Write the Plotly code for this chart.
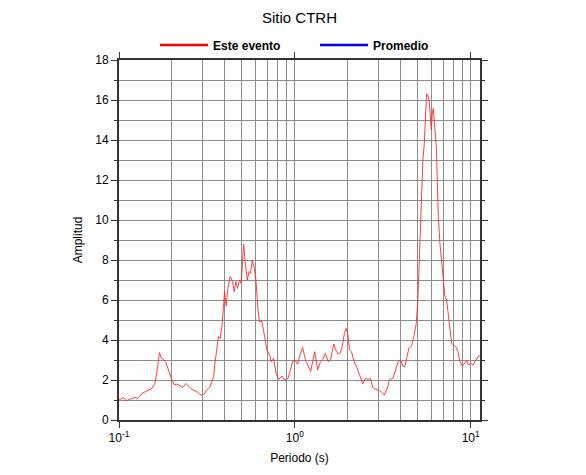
import plotly.graph_objects as go

title_text = "Sitio CTRH"
series_names = ["Este evento", "Promedio"]

periodo = [0.100, 0.106, 0.110, 0.116, 0.123, 0.128, 0.135, 0.144, 0.154, 0.160,
           0.165, 0.170, 0.174, 0.179, 0.185, 0.191, 0.200, 0.207, 0.213, 0.223,
           0.231, 0.240, 0.248, 0.260, 0.277, 0.293, 0.302, 0.316, 0.330, 0.345,
           0.352, 0.368, 0.376, 0.385, 0.393, 0.398, 0.407, 0.416, 0.429, 0.442,
           0.452, 0.462, 0.472, 0.485, 0.496, 0.504, 0.511, 0.522, 0.536, 0.550,
           0.560, 0.573, 0.588, 0.601, 0.617, 0.630, 0.650, 0.673, 0.694, 0.719,
           0.735, 0.757, 0.782, 0.809, 0.846, 0.875, 0.915, 0.943, 0.972, 1.006,
           1.037, 1.075, 1.108, 1.148, 1.189, 1.230, 1.297, 1.349, 1.398, 1.441,
           1.492, 1.546, 1.594, 1.664, 1.718, 1.763, 1.817, 1.858, 1.914, 1.957,
           1.999, 2.044, 2.098, 2.174, 2.262, 2.361, 2.434, 2.522, 2.613, 2.693,
           2.775, 2.902, 3.030, 3.140, 3.223, 3.353, 3.456, 3.609, 3.739, 3.873,
           3.991, 4.114, 4.223, 4.358, 4.450, 4.611, 4.752, 4.904, 5.008, 5.121,
           5.237, 5.348, 5.447, 5.541, 5.614, 5.710, 5.786, 5.862, 5.971, 6.050,
           6.130, 6.178, 6.260, 6.376, 6.460, 6.546, 6.685, 6.836, 6.989, 7.138,
           7.298, 7.463, 7.622, 7.793, 8.032, 8.213, 8.464, 8.690, 8.969, 9.244,
           9.489, 9.703, 10.00, 10.31, 10.68, 11.06, 11.30]

amplitud = [1.00, 1.12, 0.97, 1.05, 1.13, 1.08, 1.33, 1.45, 1.58, 1.83,
            2.50, 3.37, 3.08, 3.03, 2.87, 2.50, 2.00, 1.75, 1.80, 1.70,
            1.63, 1.83, 1.70, 1.53, 1.42, 1.25, 1.25, 1.50, 1.67, 2.17,
            2.90, 4.17, 4.08, 4.67, 5.67, 6.42, 5.70, 6.58, 7.17, 6.92,
            6.42, 6.92, 6.58, 7.00, 6.83, 8.08, 8.80, 7.92, 7.00, 7.42,
            7.33, 8.00, 7.58, 7.00, 5.50, 4.92, 4.92, 4.17, 3.50, 3.25,
            2.92, 3.08, 2.33, 2.03, 2.20, 2.00, 2.08, 2.50, 2.92, 2.97,
            2.80, 3.33, 3.63, 3.03, 2.75, 2.42, 3.42, 2.50, 2.92, 3.03,
            3.33, 2.92, 3.00, 3.80, 3.47, 3.30, 3.37, 3.67, 4.33, 4.58,
            4.33, 3.53, 3.42, 2.92, 2.58, 2.17, 1.80, 2.08, 2.03, 2.08,
            1.63, 1.53, 1.47, 1.37, 1.25, 1.58, 2.03, 2.08, 2.53, 2.92,
            3.00, 2.70, 2.67, 3.33, 3.58, 3.70, 4.17, 4.83, 6.00, 8.33,
            11.33, 13.00, 13.83, 15.33, 16.30, 16.25, 16.00, 15.50, 14.50, 15.33,
            15.58, 15.17, 14.67, 13.67, 12.00, 10.17, 8.83, 8.00, 7.00, 6.17,
            6.00, 5.33, 4.50, 3.83, 3.75, 3.67, 3.42, 2.92, 2.70, 2.87,
            2.97, 2.75, 2.83, 2.75, 3.00, 3.20, 3.20]

x_tickvals = [0.1, 1, 10]
x_ticktext = ["10<sup>-1</sup>", "10<sup>0</sup>", "10<sup>1</sup>"]
y_tickvals = [0, 2, 4, 6, 8, 10, 12, 14, 16, 18]

FONT = "Liberation Sans, Arial, Helvetica, sans-serif"

fig = go.Figure()
fig.add_trace(go.Scatter(x=periodo, y=amplitud, mode="lines",
                         line=dict(color="#ff2a2a", width=0.9),
                         showlegend=False, hoverinfo="x+y"))
# legend entries
fig.add_trace(go.Scatter(x=[None], y=[None], mode="lines", name=series_names[0],
                         line=dict(color="#ff0000", width=2.5)))
fig.add_trace(go.Scatter(x=[None], y=[None], mode="lines", name=series_names[1],
                         line=dict(color="#0000ff", width=2.5)))

W, H = 578, 467
fig.update_layout(
    width=W, height=H,
    margin=dict(l=111, r=106, t=52, b=55, autoexpand=False),
    paper_bgcolor="white", plot_bgcolor="white",
    font=dict(family=FONT, size=12, color="black"),
    title=dict(text=title_text, x=0.5, xref="paper", xanchor="center",
               y=1 - 10 / H, yanchor="middle",
               font=dict(family=FONT, size=15, color="black")),
    legend=dict(orientation="h", x=0.543, xanchor="center", xref="paper",
                y=1.042, yanchor="middle", itemwidth=48,
                font=dict(family=FONT, size=12, color="black", weight="bold"),
                entrywidth=97, entrywidthmode="pixels",
                bgcolor="rgba(0,0,0,0)"),
)

fig.update_xaxes(
    type="log", range=[-1, 1.053], automargin=False,
    tickvals=x_tickvals, ticktext=x_ticktext,
    ticks="outside", ticklen=6, tickcolor="#333", tickwidth=1,
    showline=True, linecolor="#333", linewidth=2, mirror="ticks",
    showgrid=True, gridcolor="#8c8c8c", gridwidth=1,
    minor=dict(dtick="D1", showgrid=True, gridcolor="#8c8c8c", gridwidth=1,
               ticks="", ticklen=3),
    zeroline=False,
    title=dict(text="Periodo (s)", standoff=9, font=dict(size=12)),
    tickfont=dict(size=12),
)
fig.update_yaxes(
    range=[0, 18], tickvals=y_tickvals, automargin=False,
    ticks="outside", ticklen=6, tickcolor="#333", tickwidth=1,
    showline=True, linecolor="#333", linewidth=2, mirror="ticks",
    showgrid=True, gridcolor="#8c8c8c", gridwidth=1,
    minor=dict(dtick=1, tick0=0, showgrid=True, gridcolor="#8c8c8c",
               ticks="outside", ticklen=3, tickcolor="#333"),
    zeroline=False,
    title=dict(text="Amplitud", standoff=10, font=dict(size=12)),
    tickfont=dict(size=12),
)

fig.write_html("out.html")
